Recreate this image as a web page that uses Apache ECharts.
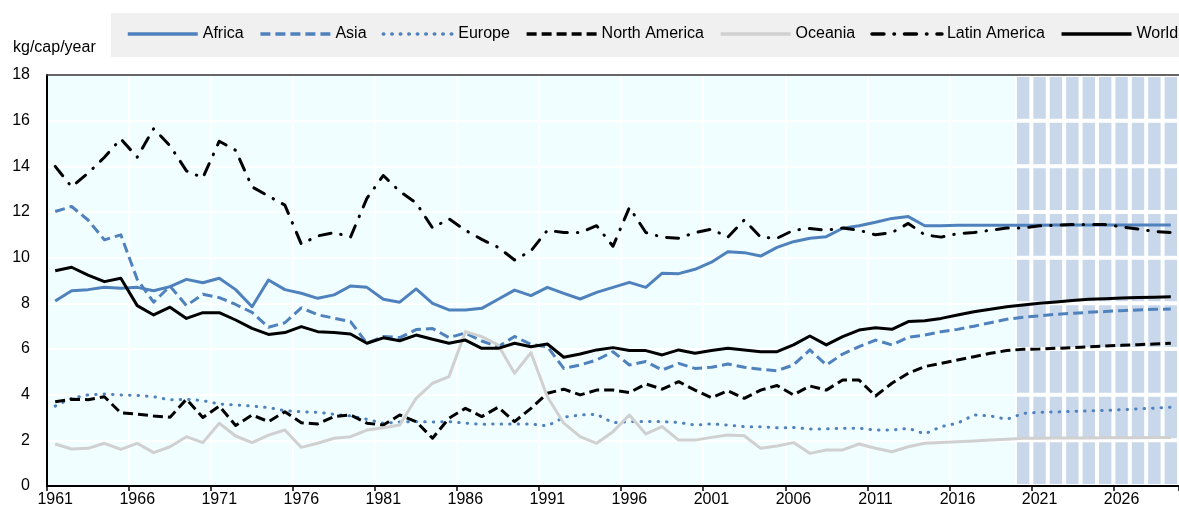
<!DOCTYPE html>
<html>
<head>
<meta charset="utf-8">
<script src="https://cdn.jsdelivr.net/npm/echarts@6/dist/echarts.min.js"></script>
<style>
html,body{margin:0;padding:0;background:#fff;}
#chart{width:1179px;height:511px;}
</style>
</head>
<body>
<div id="chart"></div>
<script>
// ---------- DATA ----------
const firstYear = 1961;
const lastYear = 2029;
const years = [];
for (let y = firstYear; y <= lastYear; y++) years.push(String(y));
const projectionStart = 2020;
const unitLabel = 'kg/cap/year';

const africa = [8.1,8.55,8.6,8.7,8.66,8.7,8.55,8.73,9.05,8.9,
  9.1,8.6,7.85,9.02,8.6,8.44,8.22,8.37,8.76,8.7,
  8.18,8.05,8.63,8.0,7.71,7.71,7.78,8.18,8.58,8.34,
  8.7,8.44,8.19,8.48,8.7,8.92,8.7,9.32,9.3,9.49,
  9.8,10.26,10.22,10.07,10.45,10.7,10.85,10.92,11.29,11.4,
  11.55,11.72,11.8,11.4,11.4,11.42,11.42,11.42,11.42,11.42,
  11.42,11.43,11.43,11.43,11.43,11.43,11.43,11.43,11.43];
const asia = [12.02,12.24,11.65,10.78,11.0,9.05,8.05,8.75,7.9,8.4,
  8.25,7.95,7.6,6.95,7.15,7.8,7.5,7.35,7.2,6.25,
  6.55,6.5,6.85,6.9,6.5,6.7,6.35,6.1,6.55,6.2,
  6.1,5.15,5.3,5.52,5.88,5.3,5.45,5.08,5.37,5.15,
  5.2,5.34,5.2,5.11,5.05,5.3,5.96,5.3,5.78,6.1,
  6.39,6.18,6.51,6.61,6.76,6.86,7.0,7.15,7.3,7.39,
  7.45,7.52,7.56,7.61,7.64,7.68,7.71,7.74,7.75];
const europe = [3.5,3.84,3.99,4.03,3.99,3.97,3.91,3.77,3.8,3.74,
  3.59,3.55,3.5,3.43,3.3,3.25,3.23,3.14,3.07,2.92,
  2.75,2.8,2.82,2.8,2.82,2.75,2.7,2.72,2.72,2.72,
  2.63,3.01,3.11,3.14,2.77,2.82,2.82,2.82,2.78,2.67,
  2.72,2.67,2.6,2.6,2.55,2.56,2.5,2.5,2.53,2.53,
  2.45,2.45,2.53,2.28,2.6,2.75,3.11,3.07,2.92,3.18,
  3.23,3.24,3.27,3.29,3.31,3.34,3.38,3.41,3.45];
const northAmerica = [3.69,3.8,3.78,3.91,3.2,3.15,3.07,3.01,3.8,3.0,
  3.5,2.65,3.11,2.82,3.25,2.77,2.72,3.04,3.11,2.75,
  2.67,3.11,2.82,2.09,2.97,3.4,3.04,3.45,2.82,3.4,
  4.06,4.24,3.99,4.2,4.2,4.09,4.47,4.24,4.57,4.2,
  3.87,4.17,3.84,4.2,4.4,3.99,4.38,4.2,4.64,4.64,
  3.94,4.5,4.94,5.23,5.37,5.52,5.66,5.81,5.93,5.99,
  6.0,6.03,6.06,6.1,6.13,6.16,6.19,6.22,6.25];
const oceania = [1.84,1.62,1.65,1.87,1.6,1.87,1.46,1.72,2.16,1.9,
  2.75,2.19,1.9,2.23,2.45,1.69,1.87,2.09,2.16,2.45,
  2.55,2.67,3.84,4.5,4.79,6.76,6.54,6.18,4.94,5.84,
  3.91,2.75,2.16,1.87,2.38,3.11,2.28,2.6,2.01,2.01,
  2.13,2.23,2.2,1.65,1.75,1.9,1.43,1.58,1.58,1.84,
  1.65,1.5,1.72,1.87,1.9,1.94,1.97,2.01,2.05,2.09,
  2.09,2.1,2.1,2.1,2.11,2.11,2.11,2.12,2.12];
const latinAmerica = [14.0,13.1,13.7,14.4,15.2,14.4,15.65,14.9,13.8,13.5,
  15.1,14.7,13.1,12.7,12.3,10.6,10.95,11.1,10.9,12.6,
  13.6,12.9,12.4,11.3,11.7,11.2,10.8,10.45,9.9,10.3,
  11.2,11.1,11.1,11.4,10.5,12.2,11.1,10.9,10.85,11.1,
  11.25,10.9,11.65,10.9,10.85,11.2,11.28,11.2,11.3,11.2,
  11.0,11.1,11.5,11.0,10.9,11.05,11.1,11.2,11.3,11.3,
  11.4,11.42,11.45,11.45,11.45,11.35,11.25,11.15,11.1];
const world = [9.43,9.58,9.24,8.95,9.1,7.9,7.49,7.83,7.34,7.59,
  7.59,7.27,6.9,6.64,6.72,6.98,6.76,6.72,6.66,6.25,
  6.49,6.36,6.61,6.43,6.25,6.39,6.03,6.03,6.25,6.1,
  6.22,5.64,5.78,5.96,6.06,5.93,5.93,5.74,5.96,5.81,
  5.93,6.03,5.96,5.88,5.88,6.18,6.57,6.18,6.54,6.83,
  6.93,6.86,7.2,7.24,7.34,7.49,7.63,7.74,7.85,7.93,
  8.0,8.06,8.12,8.18,8.2,8.23,8.26,8.27,8.29];

const yMin = 0, yMax = 18, yStep = 2;

// ---------- STYLE ----------
const FONT = 'Liberation Sans, Arial, sans-serif';
const BLUE = '#4F81BD';
const GREY = '#D0D0D0';
const SHADE = '#C9D7EA';

const seriesDefs = [
  {name:'Africa', data:africa, color:BLUE, type:'solid'},
  {name:'Asia', data:asia, color:BLUE, type:[10,5]},
  {name:'Europe', data:europe, color:BLUE, type:[0.5,8], cap:'round'},
  {name:'North America', data:northAmerica, color:'#000', type:[10,5]},
  {name:'Oceania', data:oceania, color:GREY, type:'solid'},
  {name:'Latin America', data:latinAmerica, color:'#000', type:[12,10,0.5,10], cap:'round'},
  {name:'World', data:world, color:'#000', type:'solid'}
];

const series = [];
// projection shading: stacked cells, one per y band
const nBands = (yMax - yMin) / yStep;
for (let k = 0; k < nBands; k++) {
  series.push({
    type:'bar', name:'_shade'+k, stack:'shade', silent:true, xAxisIndex:0,
    barCategoryGap:'0%', z:1, animation:false,
    itemStyle:{color:SHADE, borderColor:'#fff', borderWidth:2},
    data: years.map(y => (+y >= projectionStart ? yStep : null))
  });
}
seriesDefs.forEach(s => {
  series.push({
    type:'line', name:s.name, data:s.data, xAxisIndex:0,
    symbol:'none', smooth:false, animation:false, z:3,
    lineStyle:{color:s.color, width:3, type:s.type, cap:s.cap || 'butt', join:'round'},
    itemStyle:{color:s.color}
  });
});

const chart = echarts.init(document.getElementById('chart'), null, {renderer:'canvas'});
chart.setOption({
  animation:false,
  textStyle:{fontFamily:FONT},
  grid:{left:47, top:75, width:1133, bottom:25, show:true, backgroundColor:'#F1FEFF', borderWidth:0},
  graphic:[
    {type:'rect', z:0, shape:{x:111, y:13, width:1068, height:44}, style:{fill:'#F0F0F0'}},
    {type:'text', z:5, left:13, top:40, style:{text:unitLabel, fill:'#000', font:'16px '+FONT}}
  ],
  legend:{
    data: seriesDefs.map(s => s.name),
    left:126, top:26, padding:0, itemWidth:70, itemHeight:18, itemGap:15,
    itemStyle:{opacity:0},
    lineStyle:{width:3.5},
    textStyle:{fontSize:16, color:'#000', fontFamily:FONT},
    selectedMode:false
  },
  xAxis:[
    {type:'category', data:years, boundaryGap:true, position:'bottom',
     axisLine:{show:false}, axisTick:{show:false}, axisLabel:{show:false},
     splitLine:{show:true, interval:4, lineStyle:{color:'#fff', width:2}}},
    {type:'category', data:years, boundaryGap:true, position:'bottom', offset:0, z:10,
     axisLine:{show:true, lineStyle:{color:'#000', width:2}},
     axisTick:{show:true, interval:4, length:5, lineStyle:{color:'#000', width:1.5}},
     axisLabel:{show:true, interval:4, margin:6, fontSize:16, color:'#000', fontFamily:FONT},
     splitLine:{show:false}},
    {type:'category', data:years, boundaryGap:true, position:'top', offset:0, z:10,
     axisLine:{show:true, lineStyle:{color:'#333', width:1.5}},
     axisTick:{show:false}, axisLabel:{show:false}, splitLine:{show:false}}
  ],
  yAxis:{
    type:'value', min:yMin, max:yMax, interval:yStep,
    axisLine:{show:true, lineStyle:{color:'#000', width:2}},
    axisTick:{show:false},
    axisLabel:{fontSize:16, color:'#000', margin:17, fontFamily:FONT},
    splitLine:{show:true, lineStyle:{color:'#fff', width:2}}
  },
  series: series
});
</script>
</body>
</html>
